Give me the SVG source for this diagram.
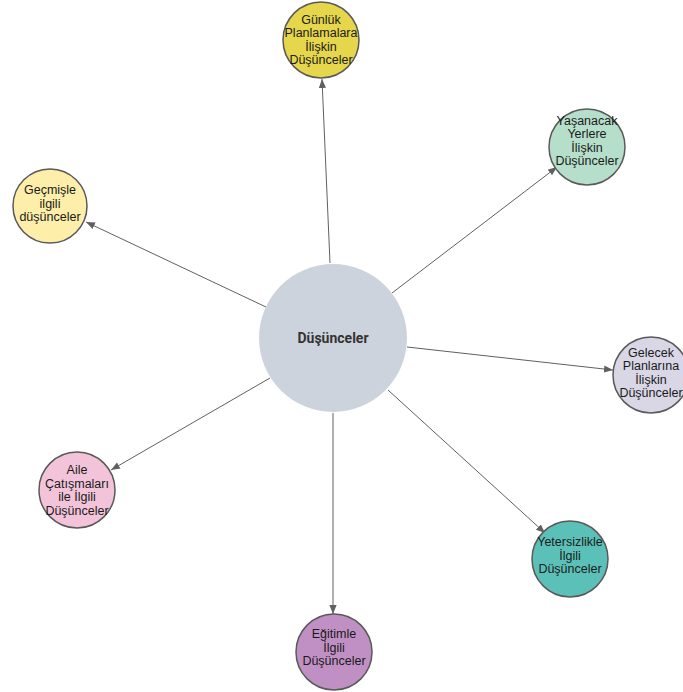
<svg xmlns="http://www.w3.org/2000/svg" width="683" height="692" viewBox="0 0 683 692">
  <style>
    .node circle { stroke: #595959; stroke-width: 1.5; }
    .node text { font-family: "Liberation Sans", Arial, sans-serif; font-size: 12.5px; fill: #1a1a1a; text-anchor: middle; }
    .hub text { font-family: Roboto, "Liberation Sans", sans-serif; font-size: 14px; font-weight: bold; fill: #333333; text-anchor: middle; }
    .edge { stroke: #606060; stroke-width: 1; fill: none; marker-end: url(#arrow); }
  </style>
  <defs>
    <marker id="arrow" viewBox="0 0 10 10" refX="10" refY="5" markerWidth="9" markerHeight="9" markerUnits="userSpaceOnUse" orient="auto">
      <path d="M0,1 L10,5 L0,9 z" fill="#606060"/>
    </marker>
  </defs>
  <rect width="683" height="692" fill="#ffffff"/>

  <g id="connectors">
    <line class="edge" x1="330" y1="263" x2="322" y2="79"/>
    <line class="edge" x1="392" y1="293" x2="557" y2="167"/>
    <line class="edge" x1="266" y1="307" x2="86" y2="222"/>
    <line class="edge" x1="407" y1="347" x2="613" y2="370"/>
    <line class="edge" x1="270" y1="378" x2="111" y2="470"/>
    <line class="edge" x1="388" y1="390" x2="545" y2="533"/>
    <line class="edge" x1="333" y1="413" x2="333" y2="614"/>
  </g>

  <g id="hub" class="hub">
    <circle cx="333" cy="338" r="74" fill="#cdd3dd"/>
    <text x="333" y="343">Düşünceler</text>
  </g>

  <g id="gunluk" class="node">
    <circle cx="321" cy="40" r="38" fill="#e5d64c"/>
    <text x="321" y="23.5">Günlük</text>
    <text x="321" y="37">Planlamalara</text>
    <text x="321" y="50.5">İlişkin</text>
    <text x="321" y="64">Düşünceler</text>
  </g>

  <g id="yasanacak" class="node">
    <circle cx="587" cy="147" r="38" fill="#b5dfcb"/>
    <text x="587" y="124.5">Yaşanacak</text>
    <text x="587" y="138">Yerlere</text>
    <text x="587" y="151.5">İlişkin</text>
    <text x="587" y="165">Düşünceler</text>
  </g>

  <g id="gecmisle" class="node">
    <circle cx="50" cy="206" r="37" fill="#fdeeaa"/>
    <text x="50" y="194">Geçmişle</text>
    <text x="50" y="207.5">ilgili</text>
    <text x="50" y="221">düşünceler</text>
  </g>

  <g id="gelecek" class="node">
    <circle cx="651" cy="375" r="38" fill="#d9d6e6"/>
    <text x="651" y="356.5">Gelecek</text>
    <text x="651" y="370">Planlarına</text>
    <text x="651" y="383.5">İlişkin</text>
    <text x="651" y="397">Düşünceler</text>
  </g>

  <g id="aile" class="node">
    <circle cx="77" cy="490" r="38" fill="#f3c4d9"/>
    <text x="77" y="474">Aile</text>
    <text x="77" y="487.5">Çatışmaları</text>
    <text x="77" y="501">ile İlgili</text>
    <text x="77" y="514.5">Düşünceler</text>
  </g>

  <g id="yetersizlikle" class="node">
    <circle cx="570" cy="559" r="38" fill="#5bc1b8"/>
    <text x="570" y="546">Yetersizlikle</text>
    <text x="570" y="559.5">İlgili</text>
    <text x="570" y="573">Düşünceler</text>
  </g>

  <g id="egitimle" class="node">
    <circle cx="334" cy="652" r="38" fill="#c090c4"/>
    <text x="334" y="638">Eğitimle</text>
    <text x="334" y="651.5">İlgili</text>
    <text x="334" y="665">Düşünceler</text>
  </g>
</svg>
